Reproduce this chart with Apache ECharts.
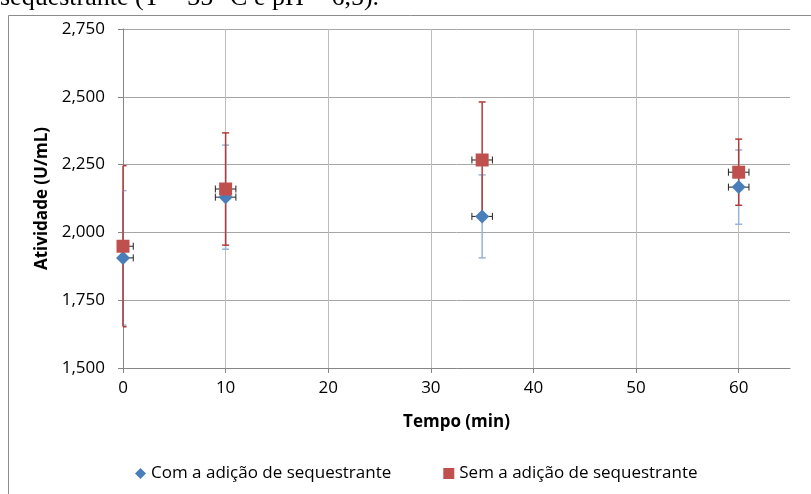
<!DOCTYPE html>
<html>
<head>
<meta charset="utf-8">
<script src="https://cdn.jsdelivr.net/npm/echarts@6/dist/echarts.min.js"></script>
<style>
html,body{margin:0;padding:0;background:#fff;}
#chart{width:811px;height:494px;}
</style>
</head>
<body>
<div id="chart"></div>
<script>
// Data
const tempo = [0, 10, 35, 60];
const tempoErro = [1, 1, 1, 1];
const comMedia = [1906, 2130, 2059, 2167];
const comErro = [248, 192, 153, 137];
const semMedia = [1949, 2160, 2267, 2222];
const semErro = [297, 207, 214, 122];
const yTicks = [1500, 1750, 2000, 2250, 2500, 2750];
const xTicks = [0, 10, 20, 30, 40, 50, 60];
const serieCom = 'Com a adição de sequestrante';
const serieSem = 'Sem a adição de sequestrante';
const legenda = 'sequestrante (T = 35 °C e pH = 6,5).';

const FONT = '"Open Sans", sans-serif';

function rows(media, erro) {
  return tempo.map((t, i) => [t, media[i], erro[i], tempoErro[i]]);
}

function errRender(vColor, vWidth) {
  return function (params, api) {
    const gx = params.coordSys.x;
    const x = api.value(0), y = api.value(1), ey = api.value(2), ex = api.value(3);
    const c = api.coord([x, y]);
    const top = api.coord([x, y + ey]);
    const bot = api.coord([x, y - ey]);
    const left = api.coord([x - ex, y]);
    const right = api.coord([x + ex, y]);
    const cap = 3.5;
    const children = [];
    const line = (x1, y1, x2, y2, color, w) => {
      if (x2 < gx) return;
      x1 = Math.max(x1, gx);
      children.push({type: 'line', shape: {x1, y1, x2, y2}, style: {stroke: color, lineWidth: w}});
    };
    line(c[0], top[1], c[0], bot[1], vColor, vWidth);
    line(c[0] - cap, top[1], c[0] + cap, top[1], vColor, vWidth);
    line(c[0] - cap, bot[1], c[0] + cap, bot[1], vColor, vWidth);
    line(left[0], c[1], right[0], c[1], '#222', 1);
    if (left[0] >= gx) line(left[0], c[1] - cap, left[0], c[1] + cap, '#222', 1);
    line(right[0], c[1] - cap, right[0], c[1] + cap, '#222', 1);
    return {type: 'group', children};
  };
}

const chart = echarts.init(document.getElementById('chart'), null, {renderer: 'canvas'});
const option = {
  animation: false,
  backgroundColor: '#fff',
  textStyle: {fontFamily: FONT},
  graphic: [
    {type: 'rect', z: -10, shape: {x: 8.5, y: 15.5, width: 900, height: 600},
     style: {fill: 'none', stroke: '#8c8c8c', lineWidth: 1}},
    {type: 'text', left: 0, top: -15,
     style: {text: legenda, font: '26px "Liberation Serif", serif', fill: '#000'}}
  ],
  grid: {left: 123, right: 21, top: 29, bottom: 126, containLabel: false},
  legend: {
    data: [{name: serieCom, icon: 'diamond'}, {name: serieSem, icon: 'rect'}],
    left: 130, top: 460,
    itemWidth: 11, itemHeight: 11, itemGap: 52,
    textStyle: {fontSize: 17, color: '#000', fontFamily: FONT}
  },
  xAxis: {
    type: 'value', min: 0, max: 65, interval: 10,
    name: 'Tempo (min)', nameLocation: 'middle', nameGap: 46,
    nameTextStyle: {fontSize: 17, fontWeight: 'bold', color: '#000', fontFamily: FONT},
    axisLine: {show: true, onZero: false, lineStyle: {color: '#868686', width: 1}},
    axisTick: {show: true, inside: false, length: 5, lineStyle: {color: '#868686'}},
    axisLabel: {fontSize: 17, color: '#000', margin: 12, fontFamily: FONT, showMaxLabel: false,
      formatter: v => (xTicks.indexOf(v) >= 0 ? String(v) : '')},
    splitLine: {show: true, lineStyle: {color: ['#bdbdbd','#bdbdbd','#bdbdbd','#bdbdbd','#bdbdbd','#bdbdbd','#bdbdbd','rgba(0,0,0,0)'], width: 1}}
  },
  yAxis: {
    type: 'value', min: 1500, max: 2750, interval: 250,
    name: 'Atividade (U/mL)', nameLocation: 'middle', nameGap: 70,
    nameTextStyle: {fontSize: 17, fontWeight: 'bold', color: '#000', fontFamily: FONT},
    axisLine: {show: true, lineStyle: {color: '#868686', width: 1}},
    axisTick: {show: true, inside: false, length: 5, lineStyle: {color: '#868686'}},
    axisLabel: {fontSize: 17, color: '#000', margin: 18, fontFamily: FONT,
      formatter: v => String(v).replace(/(\d)(\d{3})$/, '$1,$2')},
    splitLine: {show: true, lineStyle: {color: '#a6a6a6', width: 1}}
  },
  series: [
    {type: 'custom', name: 'errCom', z: 1, renderItem: errRender('#95b3d7', 1.5),
     data: rows(comMedia, comErro), encode: {x: 0, y: 1}, silent: true},
    {type: 'custom', name: 'errSem', z: 1, renderItem: errRender('#b03c3a', 1.5),
     data: rows(semMedia, semErro), encode: {x: 0, y: 1}, silent: true},
    {type: 'scatter', name: serieCom, z: 3, symbol: 'diamond', symbolSize: [14, 14],
     itemStyle: {color: '#4a7ebb', opacity: 1}, data: tempo.map((t, i) => [t, comMedia[i]])},
    {type: 'scatter', name: serieSem, z: 4, symbol: 'rect', symbolSize: [13, 13],
     itemStyle: {color: '#c0504d', opacity: 1}, data: tempo.map((t, i) => [t, semMedia[i]])}
  ]
};
chart.setOption(option);
</script>
</body>
</html>
